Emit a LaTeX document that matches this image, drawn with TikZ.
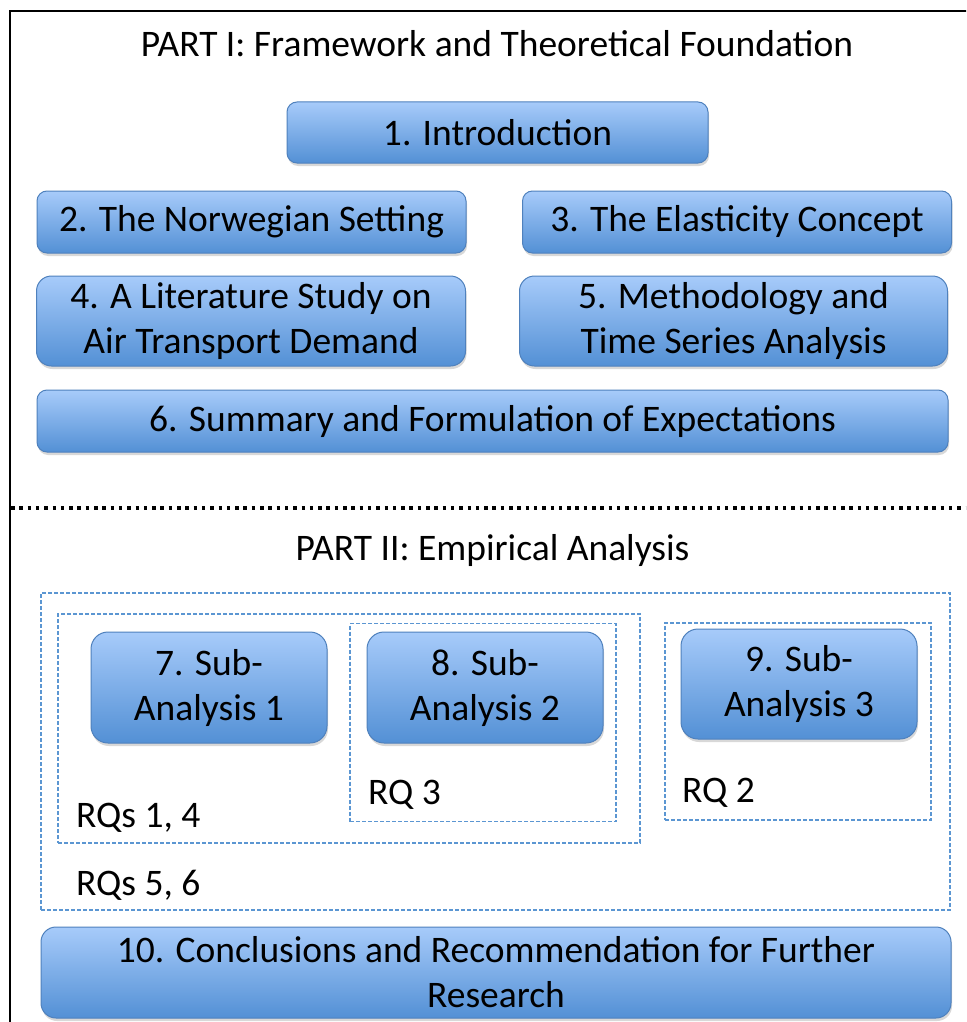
\documentclass[tikz,border=0pt]{standalone}
\usepackage{fontspec}
\setmainfont{Carlito}
\usetikzlibrary{shadows}
\definecolor{boxtop}{RGB}{167,203,250}
\definecolor{boxbot}{RGB}{83,144,213}
\definecolor{boxedge}{RGB}{79,129,189}
\definecolor{rqblue}{RGB}{91,150,210}
\begin{document}
\begin{tikzpicture}[x=1pt,y=-1pt,
  every node/.style={font=\fontsize{37.5}{45}\selectfont, inner sep=0pt},
  chap/.style={draw=boxedge, line width=1pt, rounded corners=#1,
    top color=boxtop, bottom color=boxbot, align=center,
    drop shadow={shadow xshift=1pt, shadow yshift=-3pt, opacity=0.3}},
  chap/.default=10,
  rqbox/.style={draw=rqblue, line width=1.7pt, dash pattern=on 4pt off 2pt},
  lbl/.style={anchor=base west},
  title/.style={anchor=base, font=\fontsize{37.5}{45}\selectfont}
]
\useasboundingbox (0,0) rectangle (966,1022);
\clip (0,0) rectangle (966,1022);
\fill[white] (0,0) rectangle (966,1022);

% outer frame, running off the page at the right and bottom
\draw[line width=2pt] (10,1040) -- (10,11) -- (990,11);

% Part I
\node[title] (p1) at (497,57) {PART I: Framework and Theoretical Foundation};
\node[chap, minimum width=421pt, minimum height=61pt] (c1) at (497.5,132.5) {1. Introduction};
\node[chap, minimum width=429pt, minimum height=62pt] (c2) at (251.5,222) {2. The Norwegian Setting};
\node[chap, minimum width=429pt, minimum height=62pt] (c3) at (737,222) {3. The Elasticity Concept};
\node[chap=15, minimum width=429pt, minimum height=90pt] (c4) at (251,321) {4. A Literature Study on\\Air Transport Demand};
\node[chap=15, minimum width=428pt, minimum height=90pt] (c5) at (733.5,321) {5. Methodology and\\Time Series Analysis};
\node[chap, minimum width=911pt, minimum height=62pt] (c6) at (492.5,421) {6. Summary and Formulation of Expectations};

% divider between the two parts
\draw[line width=3.5pt, dash pattern=on 3.5pt off 4.8pt] (11,508) -- (970,508);

% Part II
\node[title] (p2) at (492.5,560) {PART II: Empirical Analysis};

\node[rqbox, minimum width=909pt, minimum height=317pt] (g56) at (495.5,751.5) {};
\node[rqbox, minimum width=582pt, minimum height=229pt] (g14) at (349,728.5) {};
\node[rqbox, minimum width=266pt, minimum height=198pt] (g3) at (483,722.5) {};
\node[rqbox, minimum width=266pt, minimum height=197pt] (g2) at (798,721.5) {};

\node[chap=17, minimum width=236pt, minimum height=111pt] (c7) at (209,687.5) {7. Sub-\\Analysis 1};
\node[chap=17, minimum width=236pt, minimum height=111pt] (c8) at (485,687.5) {8. Sub-\\Analysis 2};
\node[chap=17, minimum width=236pt, minimum height=110pt] (c9) at (799,684) {9. Sub-\\Analysis 3};

\node[lbl] (r14) at (76,827) {RQs 1, 4};
\node[lbl] (r3) at (368,804) {RQ 3};
\node[lbl] (r2) at (682,802) {RQ 2};
\node[lbl] (r56) at (76,895) {RQs 5, 6};

\node[chap=15, minimum width=910pt, minimum height=91pt] (c10) at (496,972.5) {10. Conclusions and Recommendation for Further\\Research};
\end{tikzpicture}
\end{document}
